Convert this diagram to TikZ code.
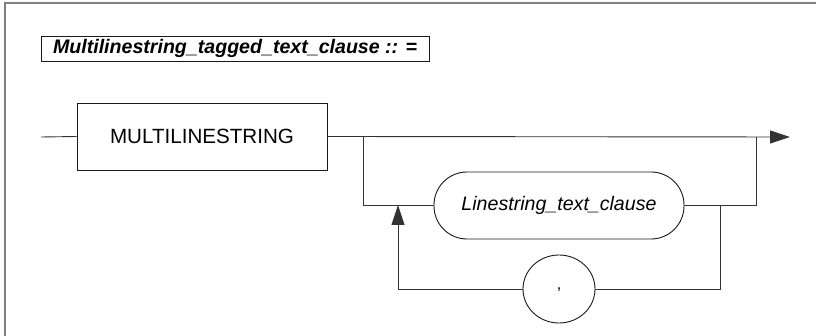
\documentclass[tikz,border=0pt]{standalone}
\usepackage{fontspec}
\setmainfont{Liberation Sans}
\usetikzlibrary{arrows.meta,shapes.geometric}

\begin{document}
\begin{tikzpicture}[x=1pt,y=-1pt,
  rail/.style={draw=black!80,line width=0.9pt},
  termbox/.style={draw=black!90,line width=0.9pt,rectangle,minimum width=250pt,minimum height=67pt,inner sep=0pt},
  nontermbox/.style={draw=black!90,line width=0.9pt,rectangle,rounded corners=33pt,minimum width=250pt,minimum height=67pt,inner sep=0pt},
  sepbox/.style={draw=black!90,line width=0.9pt,ellipse,minimum width=72pt,minimum height=68pt,inner sep=0pt},
  tip/.style={-{Triangle[length=20pt,width=13pt]}}]
\useasboundingbox (0,0) rectangle (816,336);
% outer frame
\draw[gray,line width=2pt] (5,340) -- (5,3) -- (820,3);
% heading
\node[draw=black!90,line width=0.9pt,minimum width=388pt,minimum height=25pt,inner sep=0pt] (title) at (235,48.5)
  {\fontsize{19.6}{21}\selectfont\bfseries\itshape Multilinestring\_tagged\_text\_clause :: =};
\node[termbox] (kw) at (202,136.5) {\fontsize{20.6}{24}\selectfont MULTILINESTRING};
\node[nontermbox] (item) at (559,205.5) {\fontsize{19.6}{22}\selectfont\itshape Linestring\_text\_clause};
\node[sepbox] (sep) at (559,289) {\raisebox{-4pt}{\fontsize{16}{18}\selectfont ,}};

\coordinate (in) at (41,137);
\coordinate (out) at (790,137);
\coordinate (split) at (363,137);
\coordinate (join) at (756,137);
\coordinate (back) at (720,205);
\coordinate (up) at (398,205);

% main line
\draw[rail] (in) -- (kw.west);
\draw[rail,tip] (kw.east) -- (out);
% repeat branch
\draw[rail] (split) |- (item.west);
\draw[rail] (item.east) -| (join);
\draw[rail] (back) |- (sep.east);
\draw[rail,tip] (sep.west) -| (up);
\end{tikzpicture}
\end{document}
